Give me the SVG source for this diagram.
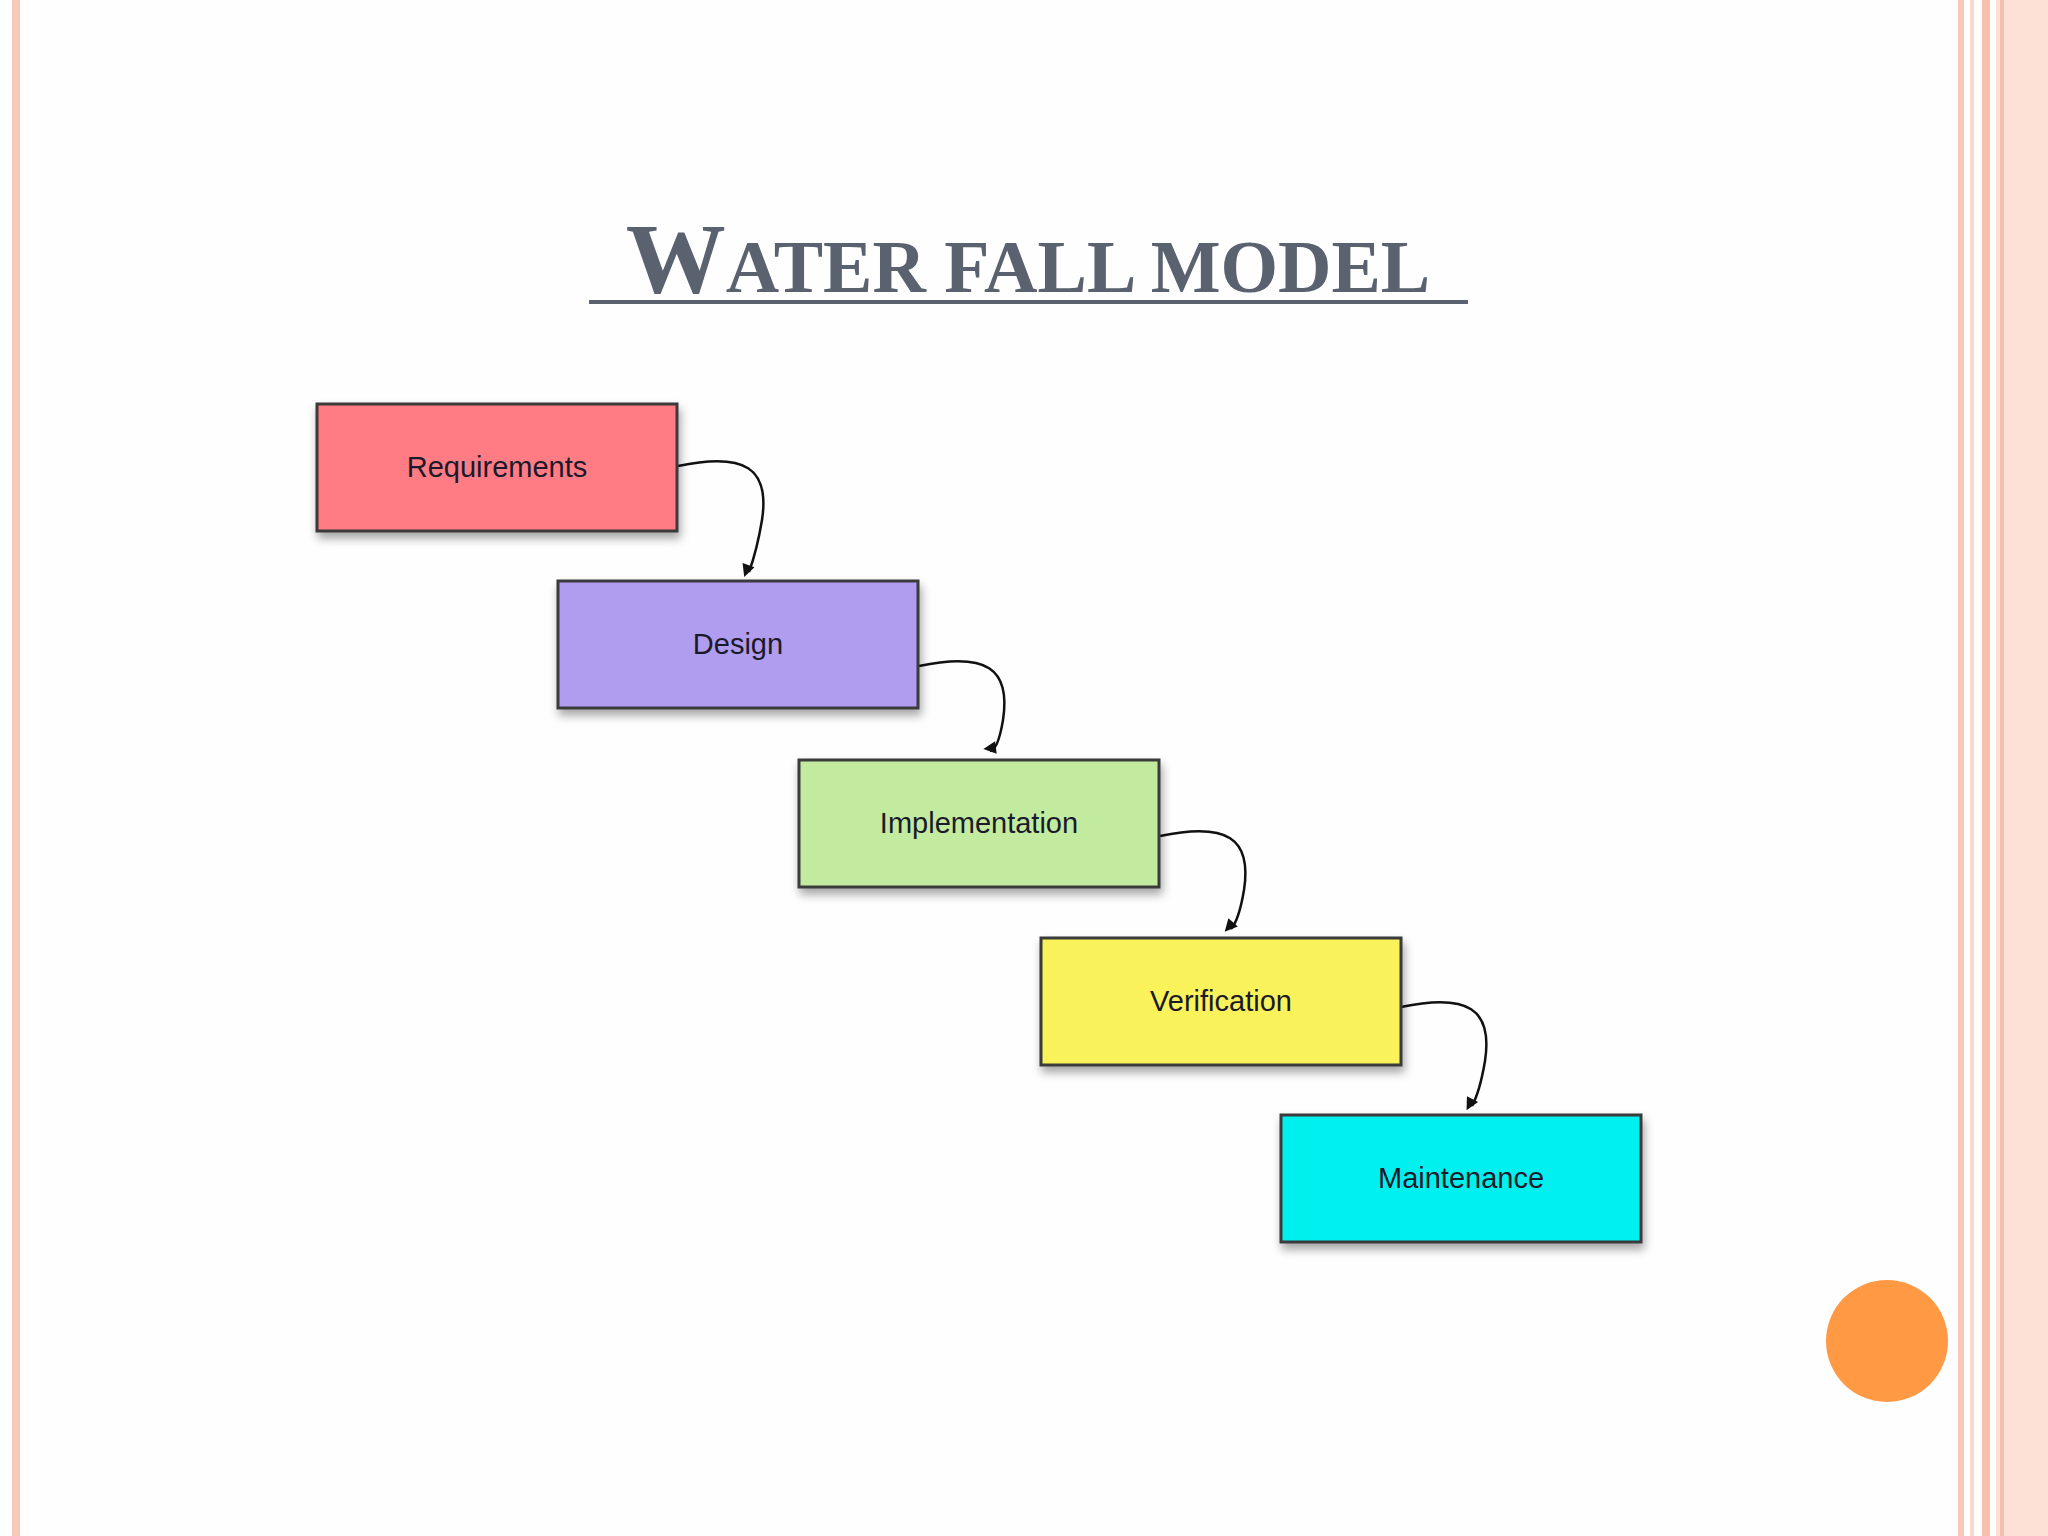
<svg xmlns="http://www.w3.org/2000/svg" width="2048" height="1536" viewBox="0 0 2048 1536">
<style>
.box{stroke:#3a3a3a;stroke-width:3}
.lbl{font-family:"Liberation Sans",Arial,sans-serif;font-size:29px;fill:#1a1a2a;text-anchor:middle;dominant-baseline:central}
.con{fill:none;stroke:#111;stroke-width:2.5;marker-end:url(#ah)}
.title{font-family:"Liberation Serif","Times New Roman",serif;font-weight:bold;fill:#5a6270}
</style>
<defs>
<marker id="ah" viewBox="0 0 10 10" refX="9" refY="5" markerWidth="7" markerHeight="7" orient="auto" markerUnits="userSpaceOnUse" style="overflow:visible"><path d="M0,0 L10,5 L0,10 z" fill="#111" transform="scale(1.8)"/></marker>
<filter id="sh" x="-10%" y="-10%" width="130%" height="140%"><feDropShadow dx="2" dy="6" stdDeviation="5" flood-color="#000" flood-opacity="0.35"/></filter>
</defs>
<rect width="2048" height="1536" fill="#fefefe"/>
<g id="borders">
<rect x="12" y="0" width="8" height="1536" fill="#f8c8b8"/>
<rect x="1958" y="0" width="6" height="1536" fill="#f8c8b8"/>
<rect x="1970" y="0" width="4" height="1536" fill="#fbd8cc"/>
<rect x="1982" y="0" width="8" height="1536" fill="#f8c0ac"/>
<rect x="1996" y="0" width="52" height="1536" fill="#fde0d6"/>
<rect x="2000" y="0" width="4" height="1536" fill="#f8c0ac"/>
</g>
<g id="title">
<text x="1028" y="292" class="title" text-anchor="middle"><tspan font-size="100">W</tspan><tspan font-size="74">ATER FALL MODEL</tspan></text>
<rect x="589" y="300" width="879" height="4" fill="#5a6270"/>
</g>
<g id="connectors">
<path class="con" d="M678,466 C745,452 770,468 762,520 Q757,550 749,572"/>
<path class="con" d="M919,666 C986,652 1011,668 1003,720 Q998,750 990,750 M1003,720 Q998,752 991,752" style="display:none"/>
<path class="con" d="M919,666 C986,652 1011,668 1003,720 Q998,750 990,751"/>
<path class="con" d="M1160,836 C1227,822 1252,838 1244,890 Q1239,920 1231,929"/>
<path class="con" d="M1401,1007 C1468,993 1493,1009 1485,1061 Q1480,1091 1472,1106"/>
</g>
<g id="requirements"><rect class="box" x="317" y="404" width="360" height="127" fill="#ff7b85" filter="url(#sh)"/><text class="lbl" x="497" y="467">Requirements</text></g>
<g id="design"><rect class="box" x="558" y="581" width="360" height="127" fill="#b19df0" filter="url(#sh)"/><text class="lbl" x="738" y="644">Design</text></g>
<g id="implementation"><rect class="box" x="799" y="760" width="360" height="127" fill="#c3eba0" filter="url(#sh)"/><text class="lbl" x="979" y="823">Implementation</text></g>
<g id="verification"><rect class="box" x="1041" y="938" width="360" height="127" fill="#faf25a" filter="url(#sh)"/><text class="lbl" x="1221" y="1001">Verification</text></g>
<g id="maintenance"><rect class="box" x="1281" y="1115" width="360" height="127" fill="#00f0f0" filter="url(#sh)"/><text class="lbl" x="1461" y="1178">Maintenance</text></g>
<circle cx="1887" cy="1341" r="61" fill="#ff9944"/>
</svg>
